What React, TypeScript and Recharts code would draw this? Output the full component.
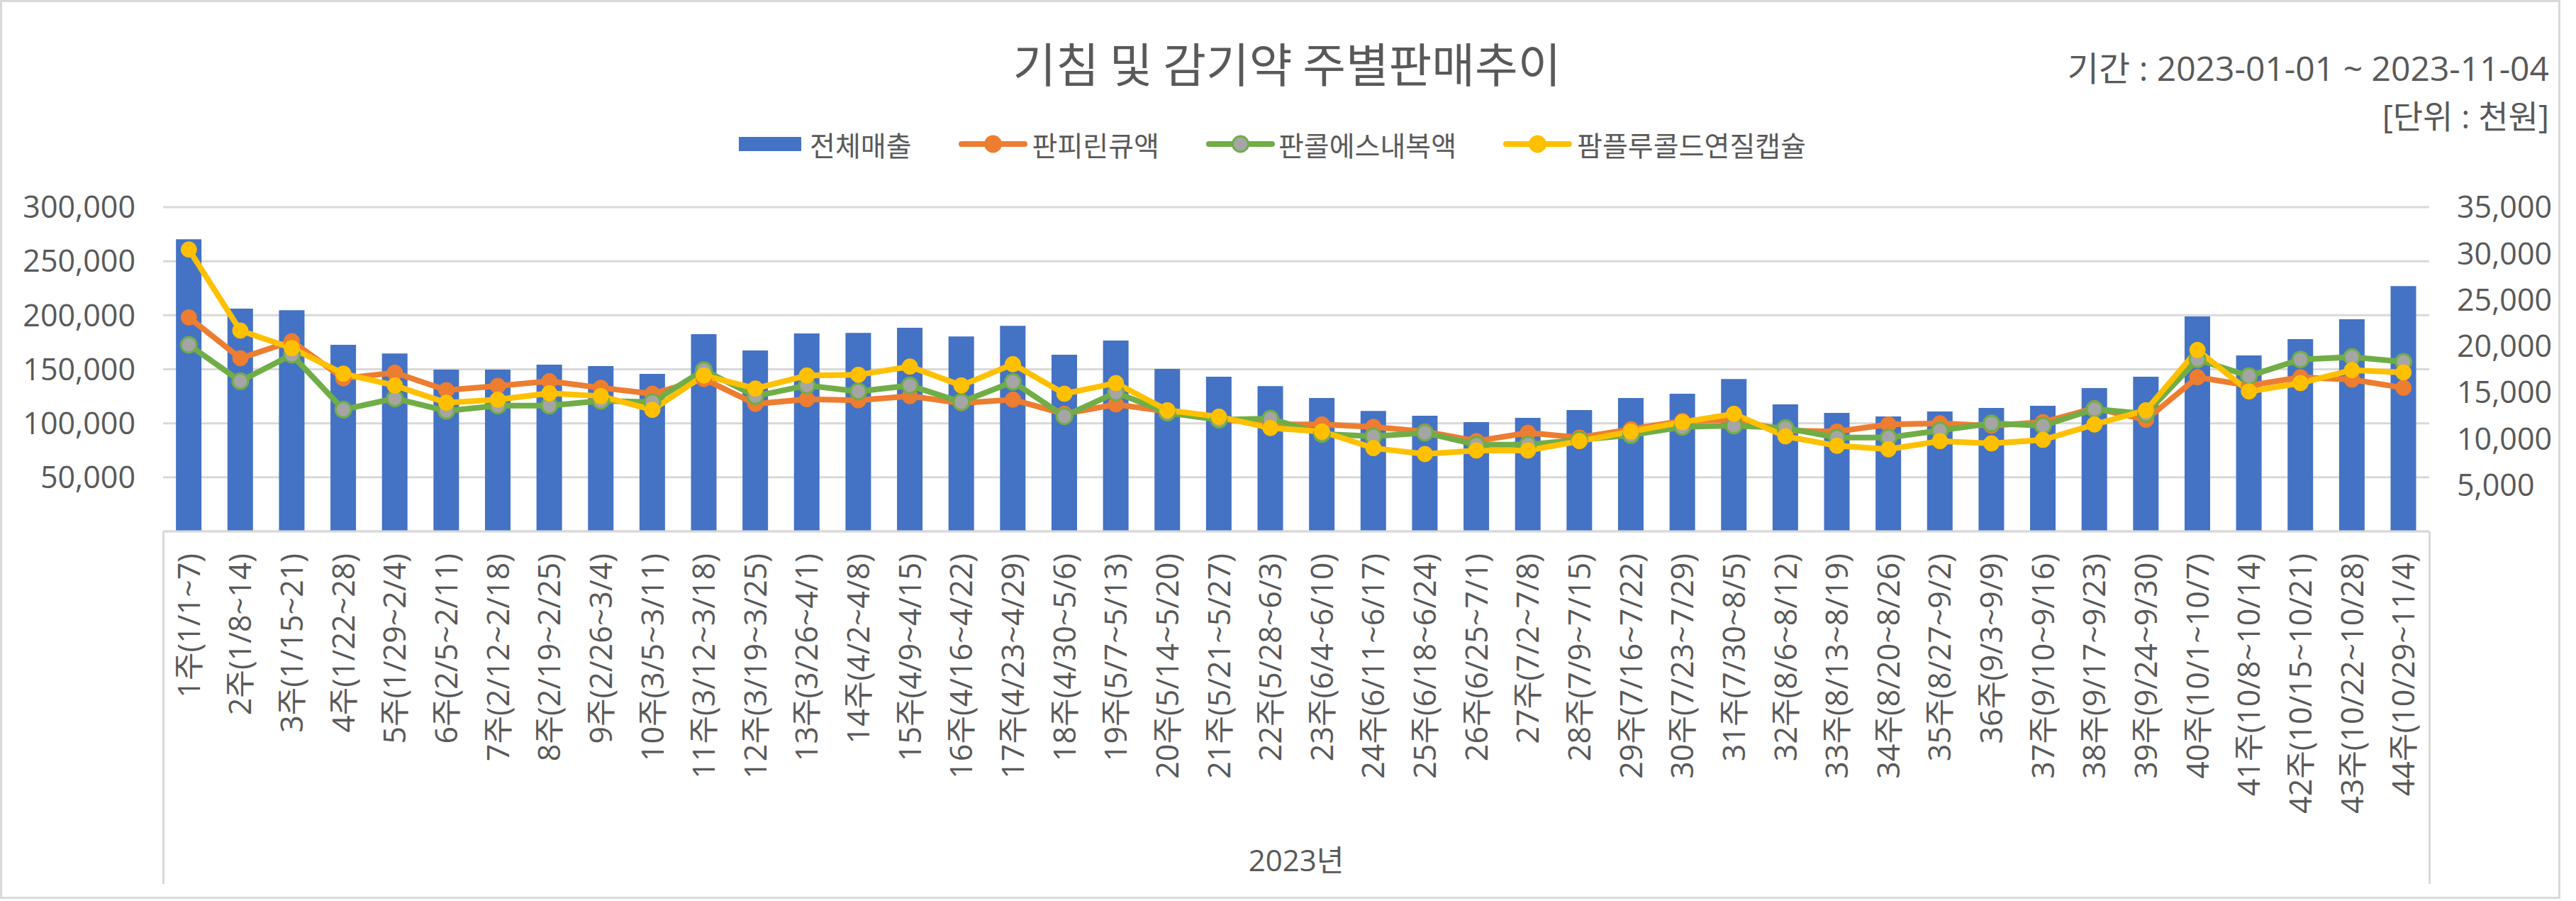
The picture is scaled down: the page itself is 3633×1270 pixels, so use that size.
import React from 'react';
import {
  ComposedChart,
  Bar,
  Line,
  XAxis,
  YAxis,
  CartesianGrid,
  Legend,
} from 'recharts';

const weeks = [
  '1주(1/1~7)', '2주(1/8~14)', '3주(1/15~21)', '4주(1/22~28)', '5주(1/29~2/4)',
  '6주(2/5~2/11)', '7주(2/12~2/18)', '8주(2/19~2/25)', '9주(2/26~3/4)', '10주(3/5~3/11)',
  '11주(3/12~3/18)', '12주(3/19~3/25)', '13주(3/26~4/1)', '14주(4/2~4/8)', '15주(4/9~4/15)',
  '16주(4/16~4/22)', '17주(4/23~4/29)', '18주(4/30~5/6)', '19주(5/7~5/13)', '20주(5/14~5/20)',
  '21주(5/21~5/27)', '22주(5/28~6/3)', '23주(6/4~6/10)', '24주(6/11~6/17)', '25주(6/18~6/24)',
  '26주(6/25~7/1)', '27주(7/2~7/8)', '28주(7/9~7/15)', '29주(7/16~7/22)', '30주(7/23~7/29)',
  '31주(7/30~8/5)', '32주(8/6~8/12)', '33주(8/13~8/19)', '34주(8/20~8/26)', '35주(8/27~9/2)',
  '36주(9/3~9/9)', '37주(9/10~9/16)', '38주(9/17~9/23)', '39주(9/24~9/30)', '40주(10/1~10/7)',
  '41주(10/8~10/14)', '42주(10/15~10/21)', '43주(10/22~10/28)', '44주(10/29~11/4)',
];

const totalSales = [
  270300, 206100, 204600, 172600, 164600, 149700, 149700, 154300, 153000, 145700,
  182500, 167400, 183100, 183700, 188400, 180300, 190200, 163500, 176600, 150300,
  143100, 134400, 123400, 111400, 107000, 101100, 105000, 112300, 123400, 127400,
  140900, 117500, 109600, 106300, 110900, 114200, 116200, 132600, 143100, 198900,
  162800, 177900, 196300, 226900,
];

const panpirin = [
  23100, 18690, 20530, 16520, 17130, 15240, 15700, 16210, 15500, 14860,
  16450, 13760, 14270, 14150, 14600, 13840, 14220, 12690, 13710, 12940,
  12150, 11540, 11540, 11280, 10780, 9750, 10650, 10130, 11030, 11920,
  12050, 10900, 10780, 11540, 11660, 11410, 11790, 13300, 12050, 16640,
  15750, 16640, 16390, 15500,
];

const pancol = [
  20140, 16210, 19070, 13150, 14350, 13000, 13580, 13580, 14090, 13960,
  17410, 14600, 15750, 15110, 15750, 13960, 16140, 12430, 14990, 12810,
  12050, 12180, 10520, 10260, 10650, 9370, 9370, 9880, 10390, 11280,
  11410, 11160, 10130, 10130, 10900, 11660, 11410, 13200, 12690, 18560,
  16770, 18560, 18820, 18300,
];

const pamplu = [
  30430, 21675, 19780, 17030, 15750, 13890, 14220, 14910, 14600, 13120,
  16830, 15420, 16830, 16900, 17790, 15750, 18050, 14860, 16010, 13070,
  12380, 11160, 10780, 8990, 8350, 8730, 8730, 9750, 10780, 11790,
  12690, 10260, 9240, 8860, 9750, 9500, 9880, 11540, 13070, 19580,
  15110, 16010, 17410, 17160,
];

const leftTicks = [0, 50000, 100000, 150000, 200000, 250000, 300000];
const rightTicks = [0, 5000, 10000, 15000, 20000, 25000, 30000, 35000];

const seriesNames = ['전체매출', '판피린큐액', '판콜에스내복액', '팜플루콜드연질캡슐'];

const TITLE = '기침 및 감기약 주별판매추이';
const PERIOD = '기간 : 2023-01-01 ~ 2023-11-04';
const UNIT = '[단위 : 천원]';
const YEAR = '2023년';

const data = weeks.map((w, i) => ({
  week: w,
  total: totalSales[i],
  panpirin: panpirin[i],
  pancol: pancol[i],
  pamplu: pamplu[i],
}));

const TEXT = '#595959';
const GRID = '#D9D9D9';
const BLUE = '#4472C4';
const ORANGE = '#ED7D31';
const GREEN = '#70AD47';
const GRAY = '#A5A5A5';
const YELLOW = '#FFC000';
const FONT = "'Open Sans', 'Noto Sans CJK KR', sans-serif";
const KFONT = "'Noto Sans CJK KR', sans-serif";

const fmt = (v: number) => (v === 0 ? '' : v.toLocaleString('en-US'));

const CatTick = (props: any) => {
  const { x, y, payload } = props;
  return (
    <text
      x={x}
      y={y}
      transform={`rotate(-90, ${x}, ${y})`}
      textAnchor="end"
      dy="0.36em"
      fill={TEXT}
      fontSize={43}
      fontFamily={FONT}
    >
      {payload.value}
    </text>
  );
};

const LineIcon = ({ color, fill }: { color: string; fill: string }) => (
  <svg width={97} height={26} style={{ display: 'block' }}>
    <line x1={4} y1={13} x2={93} y2={13} stroke={color} strokeWidth={8} strokeLinecap="round" />
    <circle cx={48.5} cy={13} r={11} fill={fill} stroke={color} strokeWidth={3} />
  </svg>
);

const renderLegend = () => {
  const items = [
    { name: seriesNames[0], icon: <div style={{ width: 88, height: 20, background: BLUE }} />, gap: 12 },
    { name: seriesNames[1], icon: <LineIcon color={ORANGE} fill={ORANGE} />, gap: 7 },
    { name: seriesNames[2], icon: <LineIcon color={GREEN} fill={GRAY} />, gap: 5 },
    { name: seriesNames[3], icon: <LineIcon color={YELLOW} fill={YELLOW} />, gap: 7 },
  ];
  return (
    <div
      style={{
        display: 'flex',
        justifyContent: 'flex-start',
        alignItems: 'center',
        height: 44,
        width: '100%',
        paddingLeft: 1042,
        boxSizing: 'border-box',
      }}
    >
      {items.map((it, i) => (
        <div
          key={it.name}
          style={{
            display: 'flex',
            alignItems: 'center',
            marginRight: i < items.length - 1 ? 66 : 0,
          }}
        >
          <div style={{ marginRight: it.gap }}>{it.icon}</div>
          <span
            style={{
              fontFamily: KFONT,
              fontSize: 39,
              color: TEXT,
              lineHeight: '44px',
              whiteSpace: 'nowrap',
            }}
          >
            {it.name}
          </span>
        </div>
      ))}
    </div>
  );
};

export default function App() {
  return (
    <div
      style={{
        position: 'absolute',
        left: 0,
        top: 0,
        width: 3633,
        height: 1270,
        background: '#ffffff',
        overflow: 'hidden',
      }}
    >
      <ComposedChart
        width={3633}
        height={1270}
        data={data}
        margin={{ top: 248, right: 0, bottom: 24, left: 0 }}
        barCategoryGap="25%"
      >
        <CartesianGrid vertical={false} stroke={GRID} strokeWidth={3} yAxisId="left" />
        <XAxis
          dataKey="week"
          interval={0}
          height={497}
          tickLine={false}
          tickSize={0}
          tickMargin={31}
          axisLine={{ stroke: GRID, strokeWidth: 3 }}
          tick={<CatTick />}
          label={{
            value: YEAR,
            position: 'insideBottom',
            offset: 18,
            fill: TEXT,
            fontSize: 42,
            fontFamily: FONT,
          }}
        />
        <YAxis
          yAxisId="left"
          orientation="left"
          width={230}
          domain={[0, 300000]}
          ticks={leftTicks}
          tickFormatter={fmt}
          axisLine={false}
          tickLine={false}
          tickSize={0}
          tickMargin={39}
          tick={{ fill: TEXT, fontSize: 43, fontFamily: FONT }}
        />
        <YAxis
          yAxisId="right"
          orientation="right"
          width={207}
          domain={[0, 35000]}
          ticks={rightTicks}
          tickFormatter={fmt}
          axisLine={false}
          tickLine={false}
          tickSize={0}
          tickMargin={39}
          tick={{ fill: TEXT, fontSize: 43, fontFamily: FONT, textAnchor: 'start' }}
        />
        <Legend
          verticalAlign="top"
          content={renderLegend}
          wrapperStyle={{ position: 'absolute', top: 181, left: 0, width: 3633, height: 44 }}
        />
        <Bar yAxisId="left" dataKey="total" name={seriesNames[0]} fill={BLUE} isAnimationActive={false} />
        <Line
          yAxisId="right"
          type="linear"
          dataKey="panpirin"
          name={seriesNames[1]}
          stroke={ORANGE}
          strokeWidth={8}
          dot={{ r: 11, fill: ORANGE, stroke: ORANGE, strokeWidth: 1 }}
          activeDot={false}
          isAnimationActive={false}
        />
        <Line
          yAxisId="right"
          type="linear"
          dataKey="pancol"
          name={seriesNames[2]}
          stroke={GREEN}
          strokeWidth={8}
          dot={{ r: 11, fill: GRAY, stroke: GREEN, strokeWidth: 3 }}
          activeDot={false}
          isAnimationActive={false}
        />
        <Line
          yAxisId="right"
          type="linear"
          dataKey="pamplu"
          name={seriesNames[3]}
          stroke={YELLOW}
          strokeWidth={8}
          dot={{ r: 11, fill: YELLOW, stroke: YELLOW, strokeWidth: 1 }}
          activeDot={false}
          isAnimationActive={false}
        />
      </ComposedChart>

      <svg
        width={3633}
        height={1270}
        style={{ position: 'absolute', left: 0, top: 0, pointerEvents: 'none' }}
      >
        <text x={1815} y={87} textAnchor="middle" dominantBaseline="central" fontSize={66} fontFamily={KFONT} fill={TEXT}>
          {TITLE}
        </text>
        <text x={3595} y={95} textAnchor="end" dominantBaseline="central" fontSize={48} fontFamily={FONT} fill={TEXT}>
          {PERIOD}
        </text>
        <text x={3595} y={163} textAnchor="end" dominantBaseline="central" fontSize={46} fontFamily={FONT} fill={TEXT}>
          {UNIT}
        </text>
      </svg>

      <div
        style={{
          position: 'absolute',
          left: 229,
          top: 749,
          width: 3199,
          height: 497,
          borderLeft: `3px solid ${GRID}`,
          borderRight: `3px solid ${GRID}`,
          boxSizing: 'border-box',
          pointerEvents: 'none',
        }}
      />
      <div
        style={{
          position: 'absolute',
          left: 0,
          top: 0,
          width: 3611,
          height: 1267,
          border: `3px solid ${GRID}`,
          boxSizing: 'border-box',
          pointerEvents: 'none',
        }}
      />
    </div>
  );
}
